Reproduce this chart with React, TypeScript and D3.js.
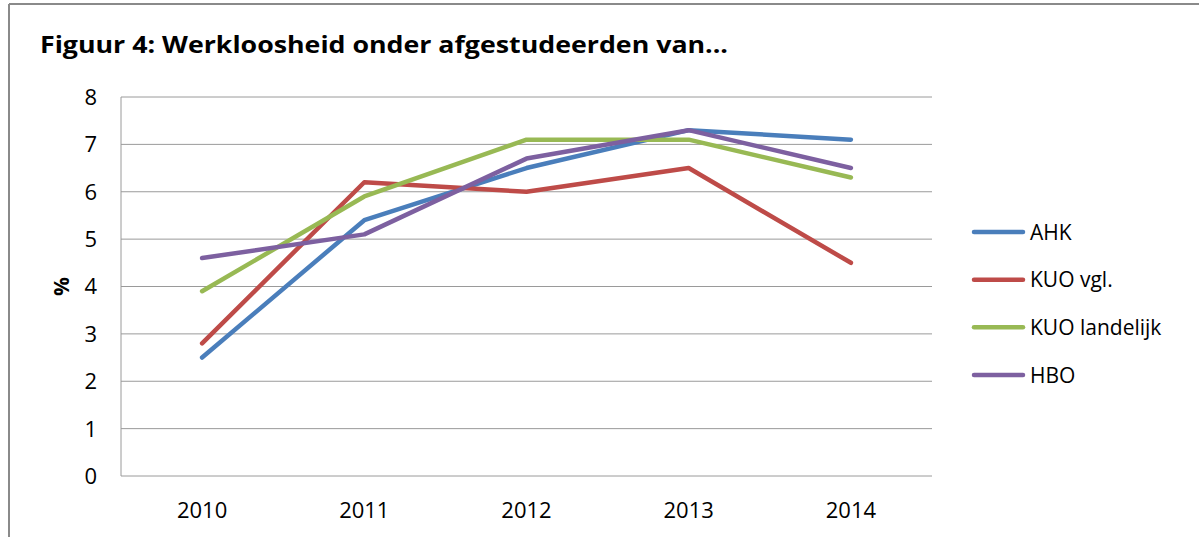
import * as d3 from 'd3';

const years = ['2010', '2011', '2012', '2013', '2014'];
const seriesNames = ['AHK', 'KUO vgl.', 'KUO landelijk', 'HBO'];
const ahk = [2.5, 5.4, 6.5, 7.3, 7.1];
const kuoVgl = [2.8, 6.2, 6.0, 6.5, 4.5];
const kuoLandelijk = [3.9, 5.9, 7.1, 7.1, 6.3];
const hbo = [4.6, 5.1, 6.7, 7.3, 6.5];
const colors = ['#4a7ebb', '#be4b48', '#98b954', '#7d60a0'];
const yTicks = [0, 1, 2, 3, 4, 5, 6, 7, 8];

const W = 1199;
const H = 537;
const font = 'Open Sans, sans-serif';

export default function App() {
  const plot = { left: 121, right: 932, top: 97, bottom: 476 };
  const x = d3.scaleBand<string>().domain(years).range([plot.left, plot.right]);
  const y = d3.scaleLinear().domain([0, 8]).range([plot.bottom, plot.top]);
  const all = [ahk, kuoVgl, kuoLandelijk, hbo];

  const line = d3
    .line<number>()
    .x((_, i) => (x(years[i]) ?? 0) + x.bandwidth() / 2)
    .y((d) => y(d));

  const legendY = d3.scalePoint<string>().domain(seriesNames).range([232, 375]);

  return (
    <div style={{ position: 'absolute', left: 0, top: 0 }}>
      <svg width={W} height={H} style={{ display: 'block', background: '#fff' }}>
        {/* outer frame */}
        <line x1={9} x2={W} y1={4} y2={4} stroke="#8a8a8a" strokeWidth={2} />
        <line x1={9} x2={9} y1={4} y2={H} stroke="#8a8a8a" strokeWidth={2} />

        <text
          x={40}
          y={53}
          fontFamily={font}
          fontWeight="bold"
          fontSize={23}
          fill="#000"
          textLength={688}
          lengthAdjust="spacingAndGlyphs"
        >
          Figuur 4: Werkloosheid onder afgestudeerden van...
        </text>

        {/* gridlines */}
        {yTicks.map((v) => (
          <line
            key={v}
            x1={plot.left}
            x2={plot.right}
            y1={y(v)}
            y2={y(v)}
            stroke="#9a9a9a"
            strokeWidth={1}
          />
        ))}
        <line x1={plot.left} x2={plot.left} y1={plot.top} y2={plot.bottom} stroke="#9a9a9a" strokeWidth={1} />

        {/* y labels */}
        {yTicks.map((v) => (
          <text
            key={`yl-${v}`}
            x={97}
            y={y(v)}
            dy="0.36em"
            textAnchor="end"
            fontFamily={font}
            fontSize={22}
            fill="#000"
          >
            {v}
          </text>
        ))}
        <text
          transform={`translate(61, ${(plot.top + plot.bottom) / 2}) rotate(-90)`}
          textAnchor="middle"
          dy="0.36em"
          fontFamily={font}
          fontWeight="bold"
          fontSize={21}
        >
          %
        </text>

        {/* x labels */}
        {years.map((yr) => (
          <text
            key={yr}
            x={(x(yr) ?? 0) + x.bandwidth() / 2}
            y={518}
            textAnchor="middle"
            fontFamily={font}
            fontSize={22}
          >
            {yr}
          </text>
        ))}

        {/* series */}
        {all.map((s, i) => (
          <path
            key={seriesNames[i]}
            d={line(s) ?? undefined}
            fill="none"
            stroke={colors[i]}
            strokeWidth={4.5}
            strokeLinejoin="round"
            strokeLinecap="round"
          />
        ))}

        {/* legend */}
        {seriesNames.map((n, i) => {
          const ly = legendY(n) ?? 0;
          return (
            <g key={`lg-${n}`}>
              <line x1={974} x2={1023} y1={ly} y2={ly} stroke={colors[i]} strokeWidth={4.5} strokeLinecap="round" />
              <text x={1030} y={ly} dy="0.36em" fontFamily={font} fontSize={21}>
                {n}
              </text>
            </g>
          );
        })}
      </svg>
    </div>
  );
}
